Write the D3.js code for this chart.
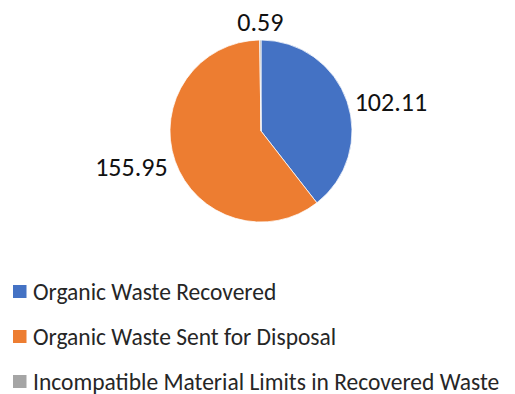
<!DOCTYPE html>
<html>
<head>
<meta charset="utf-8">
<script src="https://cdn.jsdelivr.net/npm/d3@7"></script>
<style>
  html, body { margin: 0; padding: 0; background: #fff; }
  svg { display: block; }
  text { font-family: Carlito, Calibri, Lato, "Open Sans", sans-serif; }
</style>
</head>
<body>
<svg id="chart" width="515" height="394"></svg>
<script>
// Organic waste breakdown
const categories = [
  "Organic Waste Recovered",
  "Organic Waste Sent for Disposal",
  "Incompatible Material Limits in Recovered Waste"
];
const values = [102.11, 155.95, 0.59];
const valueLabels = ["102.11", "155.95", "0.59"];
const colors = ["#4472C4", "#ED7D31", "#A5A5A5"];

const width = 515, height = 394;
const cx = 261, cy = 131, radius = 91;

const svg = d3.select("#chart");

const data = categories.map((c, i) => ({ name: c, value: values[i], label: valueLabels[i], color: colors[i] }));

const pie = d3.pie().value(d => d.value).sort(null);
const arc = d3.arc().innerRadius(0).outerRadius(radius);
const arcs = pie(data);

const g = svg.append("g").attr("transform", `translate(${cx},${cy})`);

g.selectAll("path.slice")
  .data(arcs)
  .join("path")
  .attr("class", "slice")
  .attr("d", arc)
  .attr("fill", d => d.data.color)
  .attr("stroke", "#fff")
  .attr("stroke-width", 0.75);

// Data labels outside the pie edge
const labelFont = 26;
g.selectAll("text.val")
  .data(arcs)
  .join("text")
  .attr("class", "val")
  .attr("font-size", labelFont)
  .attr("fill", "#111")
  .attr("dominant-baseline", "central")
  .each(function (d) {
    const a = (d.startAngle + d.endAngle) / 2;
    const s = Math.sin(a), c = Math.cos(a);
    const rr = radius + 8;
    let x = rr * s, y = -rr * c;
    let anchor = "middle";
    if (s > 0.3) anchor = "start";
    else if (s < -0.3) anchor = "end";
    if (anchor === "middle") y -= labelFont * 0.4 * Math.sign(c);
    else y += 3;
    d3.select(this).attr("x", x).attr("y", y).attr("text-anchor", anchor);
  })
  .text(d => d.data.label);

// Legend
const legend = svg.append("g");
const rowY = d3.scalePoint().domain(categories).range([291.5, 381.5]);
const rows = legend.selectAll("g.row")
  .data(data)
  .join("g")
  .attr("class", "row")
  .attr("transform", d => `translate(13,${rowY(d.name)})`);

rows.append("rect")
  .attr("x", 0).attr("y", -6.5)
  .attr("width", 13.5).attr("height", 13)
  .attr("fill", d => d.color);

rows.append("text")
  .attr("x", 20)
  .attr("y", 0)
  .attr("dominant-baseline", "central")
  .attr("font-size", 23.5)
  .attr("fill", "#262626")
  .text(d => d.name);
</script>
</body>
</html>
